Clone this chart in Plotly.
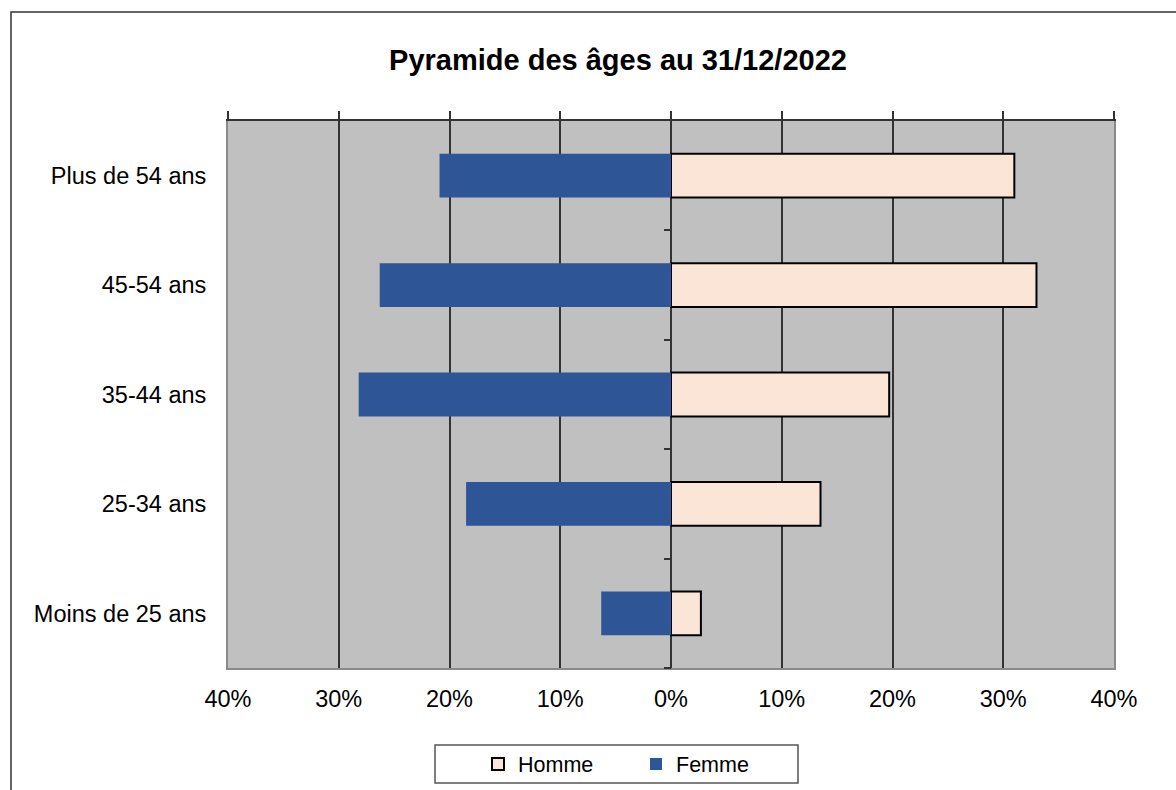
import plotly.graph_objects as go

# Age pyramid, share of each age band by sex (in %)
categories = ["Moins de 25 ans", "25-34 ans", "35-44 ans", "45-54 ans", "Plus de 54 ans"]
homme = [2.7, 13.5, 19.7, 33.0, 31.0]
femme = [6.3, 18.5, 28.2, 26.3, 20.9]
tick_values = [-40, -30, -20, -10, 0, 10, 20, 30, 40]
tick_labels = [f"{abs(v)}%" for v in tick_values]

FONT = "Liberation Sans, Arial, sans-serif"
DARK = "#333333"
BORDER = "#8a8a8a"

W, H = 1176, 790
L, R, T, B = 228, 1114, 121, 668


def px_x(px):
    return (px - L) / (R - L)


def px_y(py):
    return (B - py) / (B - T)


fig = go.Figure()
fig.add_trace(go.Bar(
    y=categories, x=homme, orientation="h", name="Homme",
    marker=dict(color="#FBE5D6", line=dict(color="#000000", width=2)),
))
fig.add_trace(go.Bar(
    y=categories, x=[-v for v in femme], orientation="h", name="Femme",
    marker=dict(color="#2E5596", line=dict(color="#2E5596", width=0)),
))
# empty traces that register the decorative axes: top value axis with
# outward ticks and the central category axis with boundary ticks at 0%
fig.add_trace(go.Scatter(x=[], y=[], xaxis="x2", yaxis="y",
                         showlegend=False, hoverinfo="skip"))
fig.add_trace(go.Scatter(x=[], y=[], xaxis="x", yaxis="y2",
                         showlegend=False, hoverinfo="skip"))

fig.update_layout(
    width=W, height=H,
    margin=dict(l=L, r=W - R, t=T, b=H - B, autoexpand=False),
    paper_bgcolor="white",
    plot_bgcolor="#C0C0C0",
    barmode="relative",
    bargap=0.6,
    font=dict(family=FONT, color="#000000"),
    title=dict(
        text="<b>Pyramide des âges au 31/12/2022</b>",
        x=618 / W, xref="container", xanchor="center",
        y=1 - 60 / H, yref="container", yanchor="middle",
        font=dict(size=29, family=FONT, color="#000000"),
    ),
    xaxis=dict(
        range=[-40, 40], tickvals=tick_values, ticktext=tick_labels,
        showgrid=True, gridcolor=DARK, gridwidth=1.5,
        zeroline=False, showline=True, linecolor=BORDER, linewidth=2,
        ticks="", ticklabelstandoff=9,
        tickfont=dict(size=23.5, family=FONT, color="#000000"),
    ),
    xaxis2=dict(
        overlaying="x", side="top", anchor="y", range=[-40, 40],
        tickvals=tick_values, showticklabels=False, showgrid=False,
        zeroline=False, showline=True, linecolor=DARK, linewidth=2,
        ticks="outside", ticklen=8, tickwidth=1.5, tickcolor=DARK,
    ),
    yaxis=dict(
        type="category", categoryorder="array", categoryarray=categories,
        range=[-0.5, 4.5], showgrid=False, zeroline=False,
        showline=True, linecolor=BORDER, linewidth=2, mirror=True,
        ticks="", ticklabelstandoff=15,
        tickfont=dict(size=23.5, family=FONT, color="#000000"),
    ),
    yaxis2=dict(
        type="linear", overlaying="y", anchor="free", position=0.5,
        side="left", range=[-0.5, 4.5],
        tickvals=[-0.5, 0.5, 1.5, 2.5, 3.5],
        showticklabels=False, showgrid=False, zeroline=False, showline=False,
        ticks="outside", ticklen=7, tickwidth=1.5, tickcolor=DARK,
    ),
    showlegend=True,
    legend=dict(
        orientation="h", x=px_x(478), xanchor="left",
        y=px_y(764), yanchor="middle",
        bgcolor="rgba(0,0,0,0)", borderwidth=0,
        entrywidth=113, entrywidthmode="pixels",
        traceorder="normal",
        font=dict(size=21.5, family=FONT, color="#000000"),
    ),
    shapes=[
        # outer chart frame
        dict(type="rect", xref="paper", yref="paper",
             x0=px_x(11), x1=px_x(1300), y0=px_y(900), y1=px_y(12),
             line=dict(color=DARK, width=1.5), fillcolor="rgba(0,0,0,0)",
             layer="below"),
        # legend frame
        dict(type="rect", xref="paper", yref="paper",
             x0=px_x(435), x1=px_x(798), y0=px_y(783), y1=px_y(745),
             line=dict(color="#555555", width=1.5), fillcolor="rgba(0,0,0,0)"),
    ],
)

fig.write_html("out.html")
